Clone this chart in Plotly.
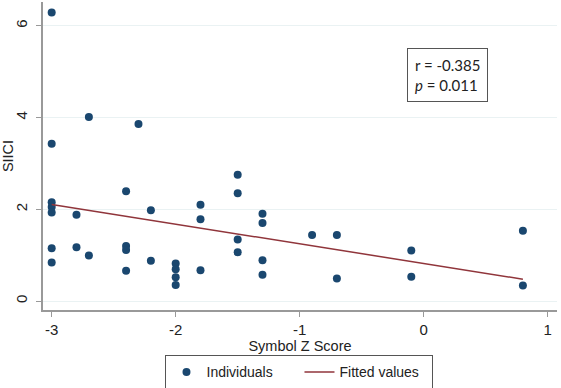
import numpy as np
import plotly.graph_objects as go

symbol_z = [-3, -3, -3, -3, -3, -3, -3,
            -2.8, -2.8,
            -2.7, -2.7,
            -2.4, -2.4, -2.4, -2.4,
            -2.3,
            -2.2, -2.2,
            -2.0, -2.0, -2.0, -2.0,
            -1.8, -1.8, -1.8,
            -1.5, -1.5, -1.5, -1.5,
            -1.3, -1.3, -1.3, -1.3,
            -0.9,
            -0.7, -0.7,
            -0.1, -0.1,
            0.8, 0.8]
siici = [6.29, 3.43, 2.15, 2.05, 1.93, 1.15, 0.84,
         1.88, 1.17,
         4.01, 0.99,
         2.39, 1.20, 1.11, 0.66,
         3.86,
         1.98, 0.88,
         0.82, 0.69, 0.52, 0.35,
         2.10, 1.78, 0.67,
         2.75, 2.35, 1.34, 1.06,
         1.90, 1.70, 0.89, 0.57,
         1.44,
         1.44, 0.49,
         1.10, 0.53,
         1.53, 0.34]

x_ticks = [-3, -2, -1, 0, 1]
x_tick_labels = ["-3", "-2", "-1", "0", "1"]
y_ticks = [0, 2, 4, 6]
y_tick_labels = ["0", "2", "4", "6"]

xa = np.array(symbol_z)
ya = np.array(siici)
slope, intercept = np.polyfit(xa, ya, 1)
fx = np.array([xa.min(), xa.max()])
fy = slope * fx + intercept

fig = go.Figure()
fig.add_trace(go.Scatter(x=symbol_z, y=siici, mode="markers", name="Individuals",
                         marker=dict(color="#1a476f", size=8, line=dict(width=0))))
fig.add_trace(go.Scatter(x=fx.tolist(), y=fy.tolist(), mode="lines", name="Fitted values",
                         line=dict(color="#90353b", width=1.5)))

font_main = "Liberation Sans, Arial, sans-serif"
fig.update_layout(
    width=561, height=388,
    margin=dict(l=43, r=4, t=2, b=78, autoexpand=False),
    paper_bgcolor="white", plot_bgcolor="white",
    font=dict(family=font_main, size=14, color="#222"),
    showlegend=True,
    legend=dict(orientation="h", x=0.499, xanchor="center", y=-0.147, yanchor="top",
                bordercolor="#555", borderwidth=1, font=dict(size=14),
                entrywidth=88, entrywidthmode="pixels", tracegroupgap=0),
    xaxis=dict(range=[-3.07, 1.075], tickvals=x_ticks, ticktext=x_tick_labels,
               showgrid=False, zeroline=False, automargin=False,
               showline=True, linecolor="#999", linewidth=1.5,
               ticks="outside", ticklen=5, tickcolor="#999",
               title=dict(text="Symbol Z Score", font=dict(size=14.5), standoff=3),
               tickfont=dict(size=15)),
    yaxis=dict(range=[-0.196, 6.517], tickvals=y_ticks, ticktext=y_tick_labels,
               showgrid=True, gridcolor="#eaf2f3",
               gridwidth=1, zeroline=False, automargin=False,
               showline=True, linecolor="#999", linewidth=1.5,
               ticks="outside", ticklen=5, tickcolor="#999", tickangle=-90,
               ticklabelstandoff=3,
               title=dict(text="SIICI", font=dict(size=14.5), standoff=1),
               tickfont=dict(size=15)),
    annotations=[dict(xref="paper", yref="paper", x=0.787, y=0.763,
                      xanchor="center", yanchor="middle",
                      text="r = -0.385<br><i>p</i> = 0.011", showarrow=False,
                      align="left", font=dict(family="Lato, sans-serif", size=15, color="#222"),
                      bordercolor="#555", borderwidth=1, borderpad=7, bgcolor="white")],
)

fig.write_html("out.html", config={"displayModeBar": False},
               post_script="document.body.style.margin='0';document.body.style.overflow='hidden';")
